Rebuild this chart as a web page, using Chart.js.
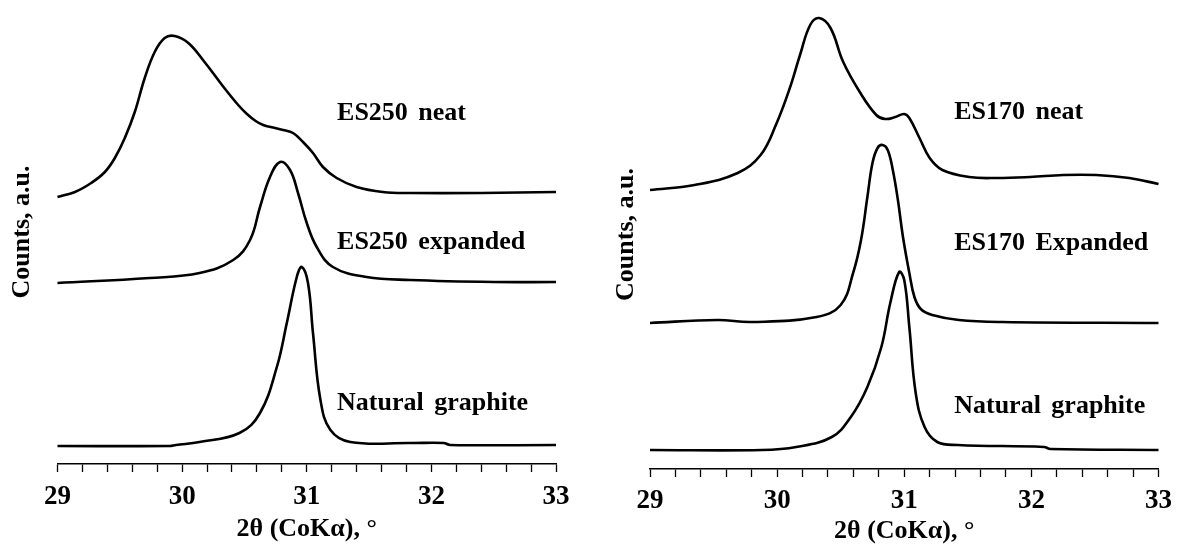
<!DOCTYPE html>
<html>
<head>
<meta charset="utf-8">
<script src="https://cdn.jsdelivr.net/npm/chart.js@4/dist/chart.umd.min.js"></script>
<style>
  html, body { margin: 0; padding: 0; background: #fff; }
  .panel { position: absolute; top: 0; width: 590px; height: 547px; }
  #p1 { left: 0; }
  #p2 { left: 590px; }
</style>
</head>
<body>
<div class="panel" id="p1"><canvas id="c1" width="590" height="547"></canvas></div>
<div class="panel" id="p2"><canvas id="c2" width="590" height="547"></canvas></div>
<script>
// ---------- data (2θ in degrees, counts in arbitrary units) ----------
const majorTicks = [29, 30, 31, 32, 33];
const xTitle = '2\u03B8 (CoK\u03B1), \u00B0';
const yTitle = 'Counts, a.u.';

// Left panel
const es250NeatX = [29.0, 29.14, 29.27, 29.38, 29.46, 29.54, 29.62, 29.7, 29.78, 29.86, 29.94, 30.05, 30.18, 30.32, 30.45, 30.52, 30.59, 30.65, 30.71, 30.81, 30.89, 30.97, 31.05, 31.13, 31.24, 31.4, 31.61, 31.83, 32.4, 33.0];
const es250NeatY = [267, 272, 281, 292, 306, 326, 352, 386, 412, 426, 428, 421, 402, 379, 359, 350, 343, 339, 337, 334, 331, 322, 311, 297, 286, 277, 272, 271, 271, 272];

const es250ExpX = [29.0, 29.74, 30.14, 30.41, 30.545, 30.625, 30.705, 30.786, 30.866, 30.93, 31.0, 31.08, 31.21, 31.48, 31.83, 32.5, 33.0];
const es250ExpY = [181, 186, 191, 204, 224, 257, 287, 302, 294, 271, 241, 217, 197, 187, 184, 182, 182];

const ng1X = [29.0, 29.9, 29.95, 30.14, 30.46, 30.625, 30.76, 30.84, 30.92, 30.96, 31.01, 31.05, 31.11, 31.19, 31.35, 31.83, 32.1, 32.15, 33.0];
const ng1Y = [18, 18, 19, 22, 31, 51, 97, 141, 187, 197, 181, 131, 64, 34, 22, 21, 21, 19, 19];

// Right panel
const es170NeatX = [29.0, 29.35, 29.69, 29.87, 29.99, 30.1, 30.18, 30.26, 30.33, 30.42, 30.52, 30.65, 30.78, 30.85, 30.93, 31.0, 31.04, 31.12, 31.2, 31.3, 31.51, 31.73, 31.99, 32.25, 32.51, 32.77, 33.0];
const es170NeatY = [279, 284, 296, 314, 344, 381, 414, 444, 451, 441, 407, 377, 354, 350, 352, 355, 351, 331, 311, 299, 292, 291, 292, 294, 294, 291, 285];

const es170ExpX = [29.0, 29.53, 29.8, 30.31, 30.5, 30.6, 30.66, 30.71, 30.75, 30.79, 30.83, 30.87, 30.91, 30.95, 30.99, 31.04, 31.08, 31.13, 31.22, 31.43, 31.77, 33.0];
const es170ExpY = [146, 149, 147, 152, 164, 197, 229, 272, 306, 321, 324, 319, 299, 269, 232, 196, 172, 160, 154, 149, 147, 146];

const ng2X = [29.0, 29.88, 30.15, 30.43, 30.58, 30.71, 30.82, 30.89, 30.96, 31.0, 31.04, 31.09, 31.16, 31.26, 31.42, 32.1, 32.15, 33.0];
const ng2Y = [19, 19, 22, 32, 52, 82, 122, 166, 197, 189, 142, 76, 42, 27, 24, 22, 20, 19];

// Curve labels
const leftLabels = ['ES250 neat', 'ES250 expanded', 'Natural graphite'];
const rightLabels = ['ES170 neat', 'ES170 Expanded', 'Natural graphite'];
// label anchors in data units (x in degrees, y in counts)
const leftLabelX = 31.243, leftLabelY = [351, 222, 61];
const rightLabelX = 31.393, rightLabelY = [357, 226, 63];

// ---------- helpers ----------
const SERIF = '"Liberation Serif", "Times New Roman", serif';
function pts(xs, ys) { return xs.map((x, i) => ({ x: x, y: ys[i] })); }
function ds(xs, ys) {
  return {
    data: pts(xs, ys),
    borderColor: '#000',
    borderWidth: 2.6,
    pointRadius: 0,
    fill: false,
    tension: 0.4,
    clip: false
  };
}

const labelPlugin = {
  id: 'curveLabels',
  afterDatasetsDraw(chart, args, opts) {
    const ctx = chart.ctx;
    const xs = chart.scales.x, ys = chart.scales.y;
    ctx.save();
    ctx.fillStyle = '#000';
    ctx.font = 'bold 26px ' + SERIF;
    ctx.textAlign = 'left';
    ctx.textBaseline = 'middle';
    try { ctx.wordSpacing = '4px'; } catch (e) {}
    opts.texts.forEach((t, i) => {
      ctx.fillText(t, xs.getPixelForValue(opts.x), ys.getPixelForValue(opts.y[i]));
    });
    ctx.restore();
  }
};

function makeChart(id, datasets, cfg) {
  return new Chart(document.getElementById(id), {
    type: 'line',
    data: { datasets: datasets },
    plugins: [labelPlugin],
    options: {
      responsive: false,
      animation: false,
      devicePixelRatio: 1,
      layout: { padding: { left: 0, right: cfg.padRight, top: 0, bottom: 0 } },
      plugins: {
        legend: { display: false },
        tooltip: { enabled: false },
        curveLabels: { texts: cfg.texts, x: cfg.labelX, y: cfg.labelY }
      },
      scales: {
        x: {
          type: 'linear',
          min: 29, max: 33,
          afterFit(s) { s.height = cfg.xHeight; },
          border: { display: true, color: '#000', width: 1.5 },
          grid: { display: true, drawOnChartArea: false, drawTicks: true, tickLength: 8, tickColor: '#000', tickWidth: 1.3 },
          ticks: {
            stepSize: 0.2,
            autoSkip: false,
            maxRotation: 0, minRotation: 0,
            padding: cfg.tickPad,
            color: '#000',
            font: { family: SERIF, size: 27, weight: 'bold' },
            callback(v) {
              const r = Math.round(v);
              return (Math.abs(v - r) < 1e-6 && majorTicks.includes(r)) ? String(r) : '';
            }
          },
          title: {
            display: true, text: xTitle, color: '#000',
            font: { family: SERIF, size: 26, weight: 'bold' },
            padding: { top: 0, bottom: cfg.titlePadB }
          }
        },
        y: {
          type: 'linear',
          min: 0, max: cfg.yMax,
          afterFit(s) { s.width = cfg.yWidth; },
          border: { display: false },
          grid: { display: false },
          ticks: { display: false },
          title: {
            display: true, text: yTitle, color: '#000',
            font: { family: SERIF, size: 26, weight: 'bold' },
            padding: { top: cfg.yTitlePad, bottom: 0 }
          }
        }
      }
    }
  });
}

makeChart('c1', [ds(es250NeatX, es250NeatY), ds(es250ExpX, es250ExpY), ds(ng1X, ng1Y)], {
  padRight: 34, xHeight: 83, yWidth: 57.5, yMax: 464, tickPad: 9, titlePadB: 2, yTitlePad: 7,
  texts: leftLabels, labelX: leftLabelX, labelY: leftLabelY
});
makeChart('c2', [ds(es170NeatX, es170NeatY), ds(es170ExpX, es170ExpY), ds(ng2X, ng2Y)], {
  padRight: 17, xHeight: 78, yWidth: 60, yMax: 469, tickPad: 8, titlePadB: 0, yTitlePad: 21,
  texts: rightLabels, labelX: rightLabelX, labelY: rightLabelY
});
</script>
</body>
</html>
